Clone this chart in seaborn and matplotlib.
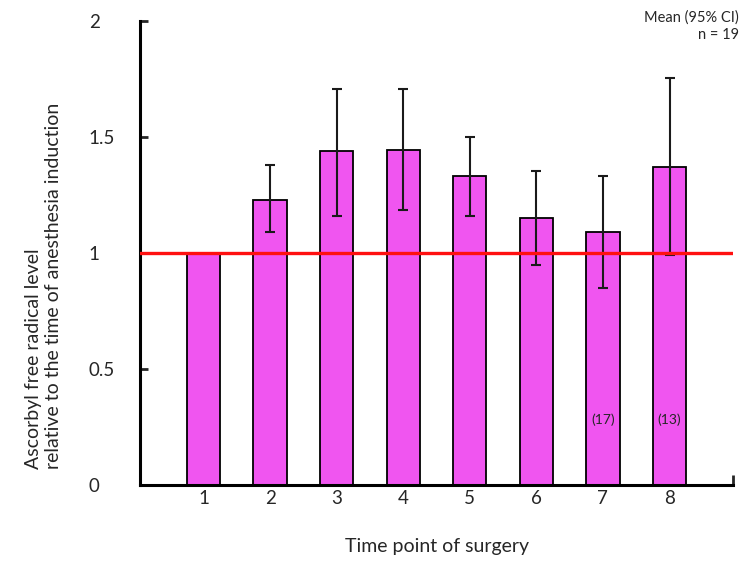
import numpy as np
import pandas as pd
import seaborn as sns
import matplotlib.pyplot as plt

# Werte
time_points = ["1", "2", "3", "4", "5", "6", "7", "8"]
mean_values = [1.0, 1.23, 1.44, 1.446, 1.331, 1.153, 1.091, 1.37]
ci_upper = [np.nan, 1.378, 1.709, 1.709, 1.50, 1.354, 1.331, 1.756]
ci_lower = [np.nan, 1.091, 1.160, 1.184, 1.160, 0.950, 0.851, 0.991]
n_labels = {"7": "(17)", "8": "(13)"}
y_ticks = [0, 0.5, 1, 1.5, 2]
y_tick_labels = ["0", "0.5", "1", "1.5", "2"]

sns.set_style("white")
plt.rcParams['font.family'] = ['Lato', 'DejaVu Sans']

df = pd.DataFrame({"time": time_points, "mean": mean_values,
                   "hi": ci_upper, "lo": ci_lower})

fig = plt.figure(figsize=(7.5, 5.87), dpi=100)
ax = fig.add_axes([0.187, 0.174, 0.79, 0.79])

sns.barplot(data=df, x="time", y="mean", color="#F055F0", saturation=1,
            width=0.5, edgecolor="black", linewidth=1.3, errorbar=None, ax=ax)

# 95%-KI als Fehlerbalken
pos = np.arange(len(time_points))
yerr = np.vstack([df["mean"] - df["lo"], df["hi"] - df["mean"]])
ax.errorbar(pos, df["mean"], yerr=yerr, fmt="none", ecolor="#1a1a1a",
            elinewidth=1.5, capsize=3.5, capthick=1.5, zorder=4)

# Referenzlinie bei 1
ax.axhline(1.0, color="#FF1010", linewidth=2.4, zorder=5)

for tp, txt in n_labels.items():
    ax.text(time_points.index(tp), 0.28, txt, ha="center", va="center", fontsize=10)

ax.set_xlim(-0.95, 7.95)
ax.set_ylim(0, 2)
ax.set_yticks(y_ticks)
ax.set_yticklabels(y_tick_labels, fontsize=13.5, ha="left")
ax.tick_params(axis="y", left=True, direction="in", length=6, width=2, pad=37)
ax.tick_params(axis="x", length=0, labelsize=13.5, pad=4)
ax.set_xticks([7.95], minor=True)
ax.tick_params(axis="x", which="minor", bottom=True, direction="in", length=7, width=2)

for s in ["top", "right"]:
    ax.spines[s].set_visible(False)
for s in ["left", "bottom"]:
    ax.spines[s].set_linewidth(2.2)
    ax.spines[s].set_color("black")

ax.set_xlabel("Time point of surgery", fontsize=14, labelpad=22)
ax.set_ylabel("Ascorbyl free radical level\nrelative to the time of anesthesia induction",
              fontsize=14, multialignment="left")
ax.yaxis.set_label_coords(-0.132, 0.43)

fig.text(0.985, 0.982, "Mean (95% CI)\nn = 19", ha="right", va="top",
         fontsize=10.5, linespacing=1.3, multialignment="right")

plt.savefig("out.png", dpi=100)
